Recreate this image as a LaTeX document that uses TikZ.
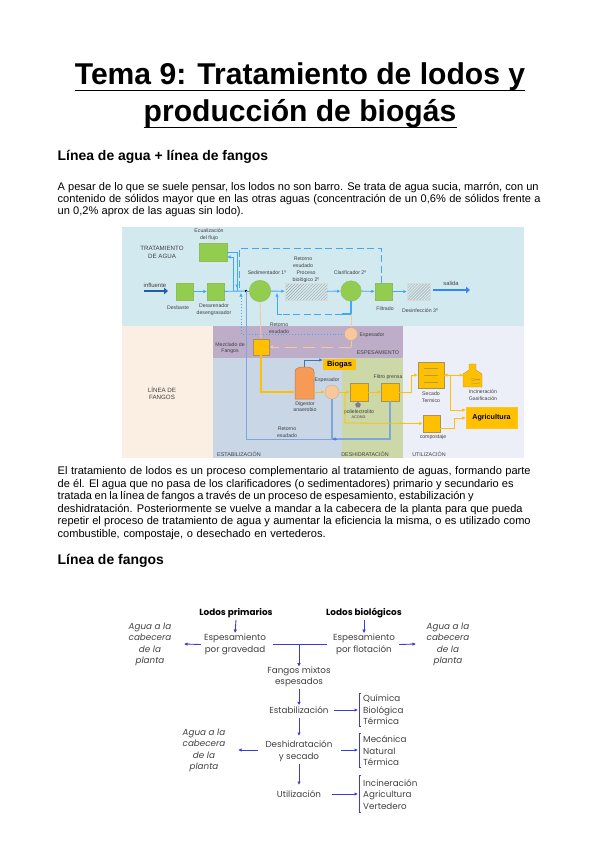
\documentclass[tikz,border=0pt]{standalone}
\usepackage{fontspec}
\setmainfont{Liberation Sans}
\newfontfamily\gothic{Poppins}
\usetikzlibrary{arrows.meta,patterns,shapes.geometric}
\definecolor{bgteal}{HTML}{D2E9EF}
\definecolor{bgpeach}{HTML}{FBEEE2}
\definecolor{bgpurple}{HTML}{BEADC9}
\definecolor{bgblue}{HTML}{C9D6E5}
\definecolor{bggreen}{HTML}{CCD8A8}
\definecolor{bglight}{HTML}{ECEFF8}
\definecolor{boxgreen}{HTML}{92CD50}
\definecolor{ylw}{HTML}{FFC000}
\definecolor{lineblue}{HTML}{3FA9F5}
\definecolor{peach}{HTML}{F8C79B}
\definecolor{steel}{HTML}{7EA6D8}
\definecolor{arrowblue}{HTML}{3B3BD8}
\definecolor{darkblue}{HTML}{1F5FA8}
\definecolor{txt}{HTML}{404040}
\definecolor{digfill}{HTML}{F79A55}
\newcommand{\txtline}[2]{\makebox[#1bp][s]{#2}}
\tikzset{
 bodyline/.style={anchor=west,inner sep=0pt,font=\fontsize{11.1}{13}\selectfont},
 head/.style={anchor=west,inner sep=0pt,font=\fontsize{14}{16}\bfseries\selectfont},
 titletext/.style={inner sep=0pt,font=\fontsize{30.2}{34}\bfseries\selectfont},
 tiny/.style={inner sep=0pt,align=center,text=txt,font=\fontsize{5.2}{6.6}\selectfont},
 sect/.style={inner sep=0pt,align=center,text=txt,font=\fontsize{6.2}{7.4}\selectfont},
 sectb/.style={sect,font=\fontsize{5.4}{6.4}\selectfont},
 gbox/.style={draw=boxgreen!80!gray,fill=boxgreen,inner sep=0pt,minimum width=17bp,minimum height=17bp,line width=.3pt},
 ybox/.style={draw=gray!70!ylw,fill=ylw,inner sep=0pt,minimum width=17.5bp,minimum height=17.5bp,line width=.4pt},
 hatchbox/.style={draw=gray!30,fill=white,pattern=north east lines,pattern color=gray!70,inner sep=0pt,minimum height=17bp},
 gcirc/.style={circle,fill=boxgreen,draw=boxgreen!80!gray,inner sep=0pt},
 pcirc/.style={circle,fill=peach,draw=gray!40!peach,inner sep=0pt},
 bl/.style={lineblue,line width=.9pt},
 bla/.style={bl,-{Latex[length=3.5bp,width=3.5bp]}},
 yl/.style={ylw,line width=.8pt},
 yla/.style={yl,-{Latex[length=3.5bp,width=3.5bp]}},
 gt/.style={inner sep=0pt,align=center,text=txt,font=\gothic\fontsize{8.8}{11.5}\selectfont},
 gi/.style={inner sep=0pt,align=center,text=txt,font=\gothic\itshape\fontsize{8.8}{11.5}\selectfont},
 gl/.style={inner sep=0pt,anchor=west,align=left,text=txt,font=\gothic\fontsize{8.8}{11.5}\selectfont},
 gb/.style={inner sep=0pt,text=black,font=\gothic\bfseries\fontsize{8.9}{11}\selectfont},
 ga/.style={arrowblue,line width=.9pt,-{Latex[length=3.5bp,width=3.5bp]}},
 gn/.style={arrowblue,line width=.9pt},
}
\begin{document}
\begin{tikzpicture}[x=1bp,y=-1bp]
\useasboundingbox (0,0) rectangle (599,848);
\fill[white] (0,0) rectangle (599,848);
% title
\node[titletext] (t1) at (300,77) {Tema 9: Tratamiento de lodos y};
\node[titletext] (t2) at (300,114) {producción de biogás};
\draw[line width=1.4pt] (t1.west|-0,90.5) -- (t1.east|-0,90.5);
\draw[line width=1.4pt] (t2.west|-0,127.5) -- (t2.east|-0,127.5);
% text
\node[head] (h1) at (57.5,156.5) {Línea de agua + línea de fangos};
\node[bodyline] (p1) at (57.5,187.5) {\txtline{481}{A pesar de lo que se suele pensar, los lodos no son barro. Se trata de agua sucia, marrón, con un}};
\node[bodyline] (p2) at (57.5,200) {\txtline{483}{contenido de sólidos mayor que en las otras aguas (concentración de un 0,6\% de sólidos frente a}};
\node[bodyline] (p3) at (57.5,212) {\txtline{186}{un 0,2\% aprox de las aguas sin lodo).}};
\node[bodyline] (q1) at (57.5,472) {\txtline{473}{El tratamiento de lodos es un proceso complementario al tratamiento de aguas, formando parte}};
\node[bodyline] (q2) at (57.5,484.5) {\txtline{456}{de él. El agua que no pasa de los clarificadores (o sedimentadores) primario y secundario es}};
\node[bodyline] (q3) at (57.5,497) {\txtline{416}{tratada en la línea de fangos a través de un proceso de espesamiento, estabilización y}};
\node[bodyline] (q4) at (57.5,509.5) {\txtline{465}{deshidratación. Posteriormente se vuelve a mandar a la cabecera de la planta para que pueda}};
\node[bodyline] (q5) at (57.5,522) {\txtline{473}{repetir el proceso de tratamiento de agua y aumentar la eficiencia la misma, o es utilizado como}};
\node[bodyline] (q6) at (57.5,534.5) {\txtline{268}{combustible, compostaje, o desechado en vertederos.}};
\node[head] (h2) at (57.5,561) {Línea de fangos};
% ---- diagram backgrounds
\fill[bgteal] (122,227) rectangle (524,326);
\fill[bgpeach] (122,326) rectangle (213,458);
\fill[bgblue] (213,358) rectangle (342,458);
\fill[bggreen] (342,358) rectangle (403,458);
\fill[bgpurple] (213,326) rectangle (403,358);
\fill[bglight] (403,326) rectangle (524,458);
% section labels
\node[sect] (sa) at (162,252.5) {TRATAMIENTO\\DE AGUA};
\node[sect] (sb) at (162,393.5) {LÍNEA DE\\FANGOS};
\node[sectb] (se) at (378,353) {ESPESAMIENTO};
\node[sectb] (sf) at (239,454) {ESTABILIZACIÓN};
\node[sectb] (sg) at (365,454) {DESHIDRATACIÓN};
\node[sectb] (sh) at (429,454) {UTILIZACIÓN};
% top row nodes
\node[gbox,minimum width=28bp,minimum height=18bp] (ecu) at (213,252) {};
\node[gbox] (des) at (185,291.5) {};
\node[gbox] (dar) at (215.5,291.5) {};
\node[gcirc,minimum size=21.5bp] (sed) at (260,291) {};
\node[hatchbox,minimum width=42bp] (bio) at (306,291.5) {};
\node[gcirc,minimum size=20.5bp] (cla) at (351,291) {};
\node[gbox] (fil) at (383.5,291.5) {};
\node[hatchbox,minimum width=23bp] (dsf) at (418.5,291.5) {};
\coordinate (n) at (246,291);
% labels
\node[tiny] (l1) at (209,234.5) {Ecualización\\del flujo};
\node[tiny] (l2) at (178,308) {Desbaste};
\node[tiny] (l3) at (214,309.5) {Desarenador\\desengrasador};
\node[tiny] (l4) at (267,273) {Sedimentador 1º};
\node[tiny] (l5) at (303,262) {Retorno\\esudado};
\node[tiny] (l6) at (306,276.5) {Proceso\\biológico 2º};
\node[tiny] (l7) at (350,273) {Clarificador 2º};
\node[tiny] (l8) at (385,309) {Filtrado};
\node[tiny] (l9) at (420,311) {Desinfección 3º};
\node[tiny,font=\fontsize{6}{7}\selectfont] (l10) at (155,285) {influente};
\node[tiny,font=\fontsize{5.8}{7}\selectfont] (l11) at (451,283) {salida};
\node[tiny] (l12) at (279,328) {Retorno\\esudado};
\node[tiny] (l13) at (230,348) {Mezclado de\\Fangos};
\node[tiny] (l14) at (372,335) {Espesador};
\node[tiny] (l15) at (305,406.5) {Digestor\\anaerobio};
\node[tiny] (l16) at (327,380) {Espesador};
\node[tiny] (l17) at (388,377) {Filtro prensa};
\node[tiny] (l18) at (359,412) {polielectrolito};
\node[tiny,font=\fontsize{3.8}{4}\selectfont] (l19) at (359,417) {ACOND.};
\node[tiny] (l20) at (431,397) {Secado\\Termico};
\node[tiny] (l21) at (483,395) {Incineración\\Gasificación};
\node[tiny] (l22) at (433,437) {compostaje};
\node[tiny] (l23) at (287,432) {Retorno\\esudado};
% influent / effluent
\coordinate (ia) at (144,291);
\draw[darkblue,line width=2.4pt,-{Triangle[length=4bp,width=6.5bp]}] (ia) -- ++(24,0);
\coordinate (sa2) at (433,290);
\draw[lineblue!80!blue,line width=2.4pt,-{Triangle[length=4bp,width=6.5bp]}] (sa2) -- (470,290);
% top row connectors
\draw[bla] (des) -- (dar);
\draw[bl] (dar) -- (n);
\draw[bl] (n) -- (sed);
\draw[bla] (sed) -- (bio);
\draw[bla] (bio) -- (cla);
\draw[bla] (cla) -- (fil);
\draw[bla] (fil) -- (dsf);
\draw[bl] (ecu.east|-0,252) -- (237,252) -- (237,291);
\draw[bla] (233,291) -- (233,257) -- (ecu.east|-0,257);
\draw[bla] (237,280) -- (237,288);
\fill[black] (n) circle (1.3);
% dashed return
\draw[bl,dash pattern=on 7bp off 3.5bp] (239,288) -- (239,248) -- (381,248) -- (381,283);
\draw[bl,dash pattern=on 7bp off 3.5bp] (342,314) -- (282,314);
\draw[bl,line width=1.1pt] (cla.south) -- (351,314) -- (342,314);
\draw[bla] (277,314) -- (277,293);
\draw[bl] (282,314) -- (277,314);
\draw[lineblue,line width=.9pt,dotted,-{Latex[length=3.5bp,width=3.5bp]}] (345,334) -- (241,334) -- (241,293);
% main sludge
\node[ybox,minimum width=16.5bp,minimum height=16.5bp] (mez) at (261,347) {};
\draw[peach,line width=.9pt] (sed.south) -- (mez.north);
\node[pcirc,minimum size=13bp] (esp1) at (351,334) {};
\draw[peach,line width=.9pt] (351,314) -- (esp1.north);
\draw[peach,line width=.9pt,dash pattern=on 12bp off 6bp,-{Latex[length=3.5bp,width=3.5bp]}] (351,347) -- (mez.east);
\draw[peach,line width=.9pt] (esp1.south) -- (351,347);
% digester
\path[fill=digfill,draw=brown!70!gray,line width=.5pt] (295,399) -- (295,372) .. controls (295,368) and (299,367) .. (304.5,367) .. controls (310,367) and (314,368) .. (314,372) -- (314,399) -- cycle;
\coordinate (dig) at (295,392);
\coordinate (digE) at (314,392);
\draw[yla,line width=1.1pt] (mez.south) -- (261,392) -- (dig);
\node[fill=ylw,inner sep=0pt,minimum width=33bp,minimum height=11bp,font=\fontsize{7.5}{9}\bfseries\selectfont] (bg) at (339.5,364.5) {Biogas};
\draw[darkblue!70!steel,line width=.8pt,-{Latex[length=3.5bp,width=3.5bp]}] (304,367) -- (304,360) -- (bg.west|-0,360);
\node[pcirc,minimum size=14bp] (esp2) at (332,392) {};
\draw[yla] (digE) -- (esp2.west);
\node[ybox] (b1) at (359,392) {};
\node[ybox] (b2) at (390,392) {};
\draw[yla] (esp2.east) -- (b1);
\draw[yla] (b1) -- (b2);
\node[regular polygon,regular polygon sides=5,fill=bgpurple!70!black,inner sep=0pt,minimum size=6bp] (pol) at (358,405) {};
% return
\coordinate (ret) at (332,439);
\draw[steel,line width=1pt] (n) -- (246,439) -- (ret);
\draw[steel,line width=1.1pt] (b2.south) -- (390,439) -- (ret);
\draw[steel,line width=1.1pt] (esp2.south) -- (ret);
\draw[steel!70!blue,-{Latex[length=3.5bp,width=3.5bp]},line width=.7pt] (337,439) -- (ret);
% utilization
\node[ybox,minimum width=26bp,minimum height=26bp] (sec) at (431,375) {};
\draw[gray!60!ylw,line width=.4pt] (424,368) -- (438,368) (424,375) -- (438,375) (424,382) -- (438,382);
\path[fill=ylw,draw=gray!70!ylw,line width=.4pt] (463,387) -- (463,374) -- (469,370) -- (469,364) -- (476,364) -- (476,370) -- (482,374) -- (482,387) -- cycle;
\coordinate (inc) at (463,375);
\draw[gray!60!ylw,line width=.4pt] (471,378) -- (480,380) (471,381) -- (480,379) (471,384) -- (480,383);
\node[fill=ylw,draw=ylw!90!white,inner sep=0pt,minimum width=51bp,minimum height=21bp,font=\fontsize{7.2}{9}\bfseries\selectfont] (agr) at (491.5,417.5) {Agricultura};
\node[ybox] (com) at (431.5,423.5) {};
\draw[yla] (b2.east) -- (411,392) -- (411,375) -- (sec.west);
\draw[yla] (444,375) -- (inc);
\draw[yla] (inc) -- (sec.east);
\draw[yla] (450,375) -- (450,410) -- (agr.west|-0,410);
\draw[yla] (345,393) -- (345,423) -- (com.west);
\draw[yla] (com.east|-0,428) -- (454,428) -- (454,418) -- (agr.west|-0,418);
% ---- flow chart
\node[gb] (lp) at (236,613) {Lodos primarios};
\node[gb] (lb) at (364,613) {Lodos biológicos};
\node[gt] (eg) at (235,644.5) {Espesamiento\\por gravedad};
\node[gt] (ef) at (364,644.5) {Espesamiento\\por flotación};
\node[gi] (a1) at (150,644.5) {Agua a la\\cabecera\\de la\\planta};
\node[gi] (a2) at (448,644.5) {Agua a la\\cabecera\\de la\\planta};
\node[gi] (a3) at (204,750.5) {Agua a la\\cabecera\\de la\\planta};
\node[gt] (fm) at (299,677) {Fangos mixtos\\espesados};
\node[gt] (es) at (299,710) {Estabilización};
\node[gt] (de) at (299,751) {Deshidratación\\y secado};
\node[gt] (ut) at (299,794) {Utilización};
\node[gl] (r1) at (363,710) {Química\\Biológica\\Térmica};
\node[gl] (r2) at (363,751) {Mecánica\\Natural\\Térmica};
\node[gl] (r3) at (363,794.5) {Incineración\\Agricultura\\Vertedero};
\coordinate (jt) at (299,644);
\draw[ga,shorten >=1bp] (lp.south) ++(0,2) -- (eg.north);
\draw[ga,shorten >=1bp] (lb.south) ++(0,2) -- (ef.north);
\draw[ga] (eg.west) ++(-3,0) -- (184,644);
\draw[ga] (ef.east) ++(4,0) -- (416,644);
\draw[gn] (273,644) -- (327,644);
\draw[ga] (jt) -- (fm.north);
\draw[ga,shorten <=2bp,shorten >=1bp] (fm.south) -- (es.north);
\draw[ga] (299,718) -- (299,736);
\draw[ga] (299,764) -- (299,785);
\draw[ga] (334,710) -- (358,710);
\draw[ga] (341,750) -- (358,750);
\draw[ga] (332,794) -- (358,794);
\draw[ga] (258,750) -- (238,750);
\draw[gn] (361,693) -- (359,693) -- (359,726) -- (361,726);
\draw[gn] (361,733) -- (359,733) -- (359,767) -- (361,767);
\draw[gn] (361,775) -- (359,775) -- (359,812) -- (361,812);
\end{tikzpicture}
\end{document}
